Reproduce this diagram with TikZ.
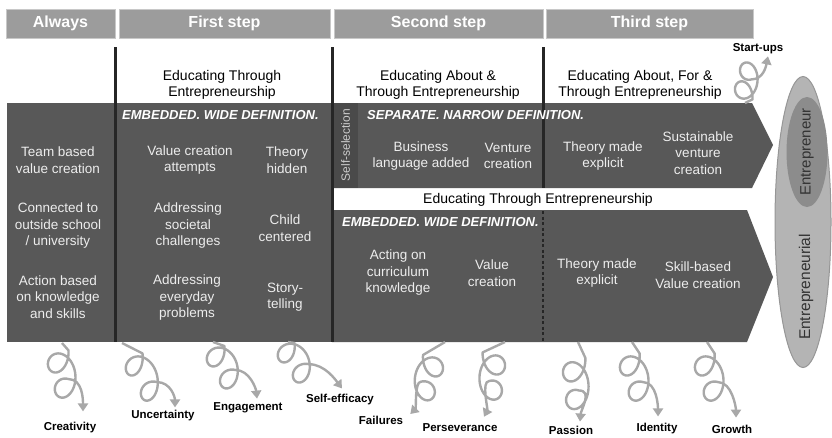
\documentclass[tikz,border=0pt]{standalone}
\usepackage{fontspec}
\setmainfont{Liberation Sans}
\usepackage{tikz}
\usetikzlibrary{arrows.meta,positioning,shapes.geometric}
\definecolor{bandgray}{RGB}{88,88,88}
\definecolor{selgray}{RGB}{74,74,74}
\definecolor{headgray}{RGB}{156,156,156}
\definecolor{headline}{RGB}{200,200,200}
\definecolor{coilgray}{RGB}{168,168,168}
\definecolor{ovalgray}{RGB}{180,180,180}
\definecolor{ovalline}{RGB}{150,150,150}
\definecolor{innergray}{RGB}{140,140,140}

\begin{document}
\begin{tikzpicture}[x=1pt, y=-1pt,
    header/.style={rectangle, draw=headline, fill=headgray, line width=1pt, minimum height=29pt, text=white, font=\fontsize{16}{18}\selectfont\bfseries},
    cell/.style={align=center, text=white!93!black, inner sep=1pt, font=\fontsize{13.5}{16.5}\selectfont},
    title/.style={align=center, inner sep=1pt, font=\fontsize{14}{16}\selectfont},
    tag/.style={anchor=west, inner sep=0pt, text=white, font=\fontsize{13}{15}\selectfont\bfseries\itshape},
    feel/.style={inner sep=1pt, font=\fontsize{11.5}{14}\selectfont\bfseries},
    divider/.style={line width=3pt, black!85},
    spiral/.style={draw=coilgray, line width=2.4pt, line join=round, -{Triangle[length=8pt,width=10pt]}}
]
    \useasboundingbox (0,0) rectangle (832,437);

    % bands
    \fill[bandgray] (7,103) rectangle (332,342);
    \fill[bandgray] (332,103) -- (752,103) -- (773,145) -- (752,188) -- (332,188) -- cycle;
    \fill[bandgray] (332,210) -- (747,210) -- (773,277) -- (747,342) -- (332,342) -- cycle;
    \fill[selgray] (333,103) rectangle (358,188);

    % headers
    \node[header, minimum width=109pt] (always) at (60.5,23.5) {Always};
    \node[header, minimum width=211pt] (first) at (224.5,23.5) {First step};
    \node[header, minimum width=209pt] (second) at (438.5,23.5) {Second step};
    \node[header, minimum width=207pt] (third) at (649.5,23.5) {Third step};

    \draw[divider] (115,47) -- (115,342);
    \draw[divider] (332,47) -- (332,342);
    \draw[divider] (543,47) -- (543,188);
    \draw[divider, line width=2.5pt, dash pattern=on 3pt off 2.5pt] (543,211) -- (543,342);

    % titles
    \node[title] (through) at (222,85) {Educating Through\\Entrepreneurship};
    \node[title] (about) at (438,85) {Educating About \&\\Through Entrepreneurship};
    \node[title] (aboutfor) at (640,85) {Educating About, For \&\\Through Entrepreneurship};
    \node[title] (throughlow) at (538,200) {Educating Through Entrepreneurship};

    \node[tag] (embedded) at (122,115) {EMBEDDED. WIDE DEFINITION.};
    \node[tag] (separate) at (367,115) {SEPARATE. NARROW DEFINITION.};
    \node[tag] (embeddedlow) at (342,222) {EMBEDDED. WIDE DEFINITION.};
    \node[rotate=90, inner sep=0pt, text=white!80!black, font=\fontsize{12}{14}\selectfont] (selfsel) at (345.5,145) {Self-selection};

    % always
    \node[cell] (team) at (58,160) {Team based\\value creation};
    \node[cell] (connected) at (58,226) {Connected to\\outside school\\/ university};
    \node[cell] (action) at (58,297) {Action based\\on knowledge\\and skills};

    % first step
    \node[cell] (attempts) at (190,160) {Value creation\\attempts};
    \node[cell] (hidden) at (287,160) {Theory\\hidden};
    \node[cell] (societal) at (188,226) {Addressing\\societal\\challenges};
    \node[cell] (child) at (285,228) {Child\\centered};
    \node[cell] (everyday) at (187,298) {Addressing\\everyday\\problems};
    \node[cell] (story) at (285,297) {Story-\\telling};

    % second and third step
    \node[cell] (business) at (421,156) {Business\\language added};
    \node[cell] (venture) at (508,156) {Venture\\creation};
    \node[cell] (explicit) at (603,156) {Theory made\\explicit};
    \node[cell] (sustainable) at (698,153) {Sustainable\\venture\\creation};
    \node[cell] (curriculum) at (398,273) {Acting on\\curriculum\\knowledge};
    \node[cell] (value) at (492,273) {Value\\creation};
    \node[cell] (explicitlow) at (597,273) {Theory made\\explicit};
    \node[cell] (skill) at (698,275) {Skill-based\\Value creation};

    % ovals
    \node[ellipse, draw=ovalline, fill=ovalgray, line width=1pt, minimum width=56pt, minimum height=291pt] (entrepreneurial) at (803,222) {};
    \node[ellipse, fill=innergray, minimum width=41pt, minimum height=110pt] (entrepreneur) at (807,152) {};
    \node[rotate=90, text=black!80, font=\fontsize{15}{18}\selectfont] at (entrepreneur.center) {Entrepreneur};
    \node[rotate=90, text=black!80, font=\fontsize{15.5}{18}\selectfont] at (806,287) {Entrepreneurial};

    % feelings
    \node[feel] (creativity) at (70,428) {Creativity};
    \node[feel] (uncertainty) at (163,416) {Uncertainty};
    \node[feel] (engagement) at (248,408) {Engagement};
    \node[feel] (efficacy) at (340,400) {Self-efficacy};
    \node[feel] (failures) at (381,420) {Failures};
    \node[feel] (perseverance) at (460,428) {Perseverance};
    \node[feel] (passion) at (571,430) {Passion};
    \node[feel] (identity) at (657,429) {Identity};
    \node[feel] (growth) at (732,429) {Growth};
    \node[feel] (startups) at (758,49) {Start-ups};

    \coordinate (c1) at (62,343);
    \coordinate (c2) at (122,343);
    \coordinate (c3) at (213,342);
    \coordinate (c4) at (288,342);
    \coordinate (c5) at (445,342);
    \coordinate (c6) at (505,342);
    \coordinate (c7) at (578,342);
    \coordinate (c8) at (632,342);
    \coordinate (c9) at (707,342);
    \coordinate (c10) at (745,103);

    % spirals
    \draw[spiral] (c1) -- plot[domain=180:810, samples=140] ({56.5+1.1*(\x-180)/57.3-12*cos(\x)}, {350.4+4*(\x-180)/57.3-15.3*sin(\x)})
        .. controls +(14,0) and +(0,-12) .. ([xshift=13pt, yshift=10pt]creativity.north);
    \draw[spiral] (c2) -- plot[domain=180:810, samples=140] ({130.5+2.4*(\x-180)/57.3-12*cos(\x)}, {353.4+4*(\x-180)/57.3-15.3*sin(\x)})
        .. controls +(14,0) and +(0,-10) .. ([xshift=12pt, yshift=2pt]uncertainty.north);
    \draw[spiral] (c3) -- plot[domain=180:810, samples=140] ({212.4+2.1*(\x-180)/57.3-12*cos(\x)}, {346+3.5*(\x-180)/57.3-14.5*sin(\x)})
        .. controls +(14,0) and +(-1,-10) .. ([xshift=9pt, yshift=3pt]engagement.north);
    \draw[spiral] (c4) -- plot[domain=180:810, samples=140] ({282.5+2.4*(\x-180)/57.3-12*cos(\x)}, {343+3.2*(\x-180)/57.3-14*sin(\x)})
        .. controls +(16,0) and +(-6,-8) .. ([xshift=2pt, yshift=5pt]efficacy.north);
    \draw[spiral] (c5) -- plot[domain=180:810, samples=140] ({435-1.3*(\x-180)/57.3+12*cos(\x)}, {355+3.8*(\x-180)/57.3-15*sin(\x)})
        .. controls +(-6,0) and +(6,-6) .. ([xshift=6pt, yshift=6pt]failures.east);
    \draw[spiral] (c6) -- plot[domain=180:810, samples=140] ({494.6-0.5*(\x-180)/57.3+12*cos(\x)}, {352.4+4*(\x-180)/57.3-15.3*sin(\x)})
        .. controls +(-8,0) and +(4,-8) .. ([xshift=24pt, yshift=6pt]perseverance.north);
    \draw[spiral] (c7) -- plot[domain=180:810, samples=140] ({573.4+0.5*(\x-180)/57.3-12*cos(\x)}, {358+4.4*(\x-180)/57.3-15.9*sin(\x)})
        .. controls +(14,0) and +(1,-12) .. ([xshift=9pt, yshift=3pt]passion.north);
    \draw[spiral] (c8) -- plot[domain=180:810, samples=140] ({627.6+1.4*(\x-180)/57.3-12*cos(\x)}, {353.4+4*(\x-180)/57.3-15.3*sin(\x)})
        .. controls +(14,0) and +(0,-10) .. ([xshift=1pt, yshift=6pt]identity.north);
    \draw[spiral] (c9) -- plot[domain=180:810, samples=140] ({702.6+1.4*(\x-180)/57.3-12*cos(\x)}, {353.4+4*(\x-180)/57.3-15.3*sin(\x)})
        .. controls +(14,0) and +(0,-10) .. ([xshift=4pt, yshift=6pt]growth.north);
    \draw[spiral] (c10) -- plot[domain=180:810, samples=140] ({742.5+0.8*(\x-180)/57.3-10*cos(\x)}, {99.4-3*(\x-180)/57.3+13*sin(\x)})
        .. controls +(12,0) and +(-2,10) .. ([xshift=10pt, yshift=-1pt]startups.south);
\end{tikzpicture}
\end{document}
